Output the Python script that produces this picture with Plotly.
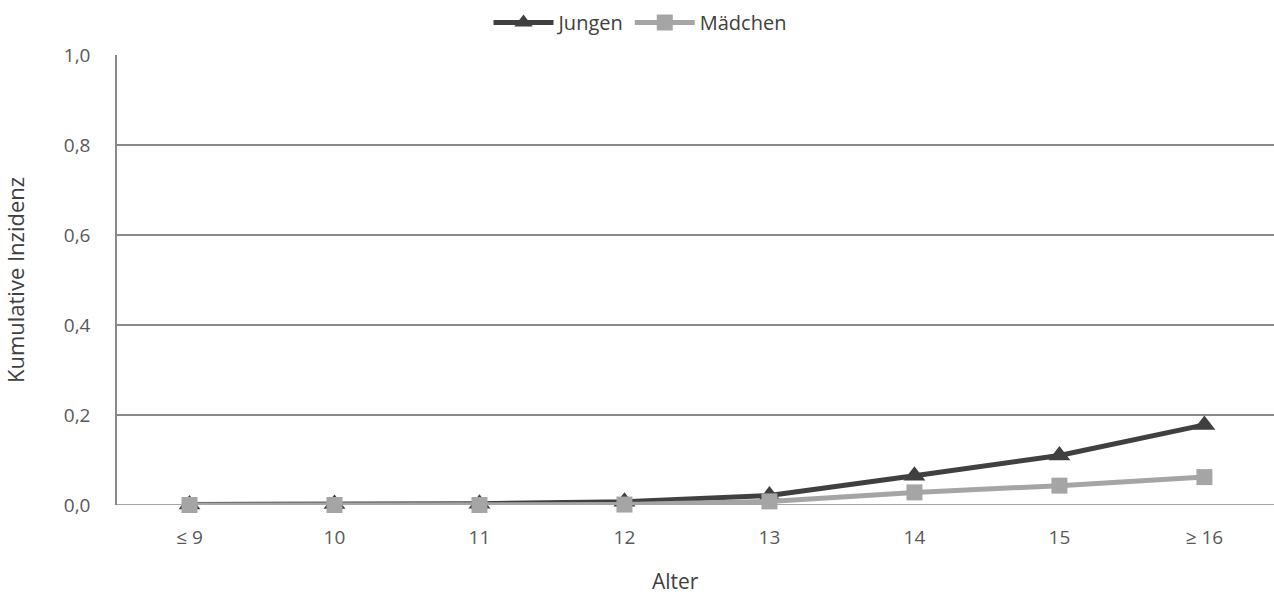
import plotly.graph_objects as go

categories = ["≤ 9", "10", "11", "12", "13", "14", "15", "≥ 16"]
jungen = [0.001, 0.002, 0.003, 0.007, 0.021, 0.065, 0.110, 0.178]
maedchen = [0.000, 0.000, 0.000, 0.001, 0.008, 0.028, 0.043, 0.062]
y_ticks = [0.0, 0.2, 0.4, 0.6, 0.8, 1.0]
y_labels = ["0,0", "0,2", "0,4", "0,6", "0,8", "1,0"]

FONT = "Open Sans, Liberation Sans, sans-serif"
TXT = "#595959"

fig = go.Figure()
fig.add_trace(go.Scatter(
    x=list(range(len(categories))), y=jungen, name="Jungen", mode="lines+markers",
    line=dict(color="#404040", width=5), cliponaxis=False,
    marker=dict(symbol="triangle-up", size=19, color="#404040"),
))
fig.add_trace(go.Scatter(
    x=list(range(len(categories))), y=maedchen, name="Mädchen", mode="lines+markers",
    line=dict(color="#a5a5a5", width=5), cliponaxis=False,
    marker=dict(symbol="square", size=16, color="#a5a5a5"),
))

fig.update_layout(
    width=1274, height=597,
    margin=dict(l=117, r=0, t=55, b=92),
    paper_bgcolor="white", plot_bgcolor="white",
    font=dict(family=FONT, size=18, color=TXT),
    legend=dict(orientation="h", x=(640 - 117) / 1157, xanchor="center", y=0.995, yanchor="top",
                yref="container", font=dict(size=20, color="#404040"),
                itemwidth=60),
    showlegend=True,
)
fig.update_xaxes(
    range=[-0.5, 7.48], tickmode="array",
    tickvals=list(range(len(categories))), ticktext=categories,
    showgrid=False, zeroline=False, showline=False, ticks="",
    ticklabelstandoff=19,
    tickfont=dict(size=19, color=TXT),
)
fig.update_yaxes(
    range=[0, 1.0], tickmode="array", tickvals=y_ticks, ticktext=y_labels,
    showgrid=True, gridcolor="#898989", gridwidth=1.5,
    zeroline=False, showline=True, linecolor="#898989", linewidth=1.5,
    ticks="", ticklabelstandoff=21,
    title=dict(text="Kumulative Inzidenz", font=dict(size=22, color="#404040"), standoff=36),
    tickfont=dict(size=19, color=TXT),
)
fig.add_shape(type="line", xref="paper", yref="y", x0=0, x1=1, y0=0, y1=0,
              line=dict(color="#898989", width=1.5), layer="below")
fig.add_annotation(text="Alter", xref="paper", yref="paper",
                   x=(675 - 117) / 1157, y=-(581 - 505) / 450,
                   xanchor="center", yanchor="middle", showarrow=False,
                   font=dict(size=21, color="#404040"))

fig.write_html("out.html")
